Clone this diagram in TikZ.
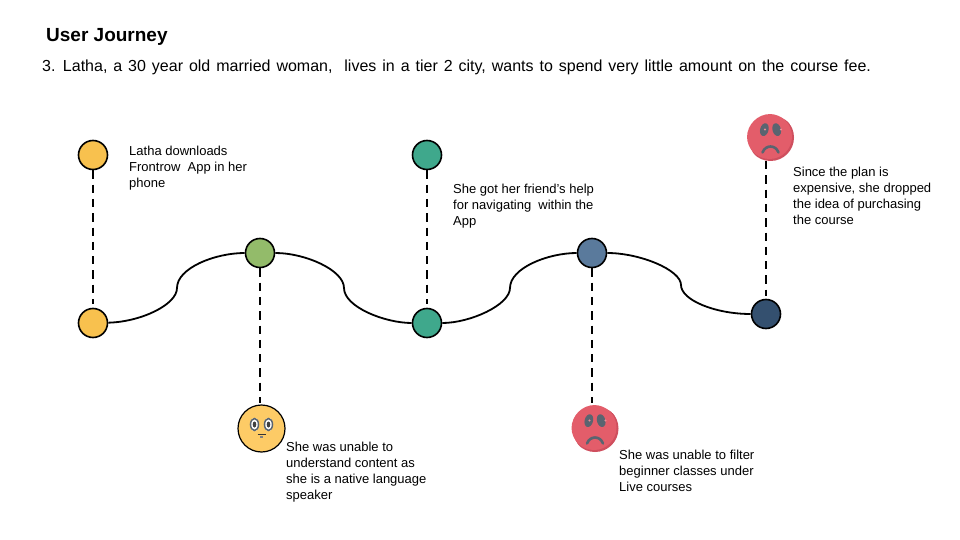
\documentclass[tikz,border=0pt]{standalone}
\usepackage{fontspec}
\setmainfont{Liberation Sans}
\usetikzlibrary{calc}
\definecolor{cy}{HTML}{F8C14E}
\definecolor{cg}{HTML}{93BB6A}
\definecolor{ct}{HTML}{3FA88C}
\definecolor{cb}{HTML}{5A7A9C}
\definecolor{cn}{HTML}{34506F}
\definecolor{cr}{HTML}{E35D6A}
\definecolor{crd}{HTML}{CF4F5E}
\definecolor{cf}{HTML}{FDCB66}
\definecolor{ce}{HTML}{5A6470}
\tikzset{
 dot/.style={circle,draw=black,line width=1.6pt,minimum size=29pt,inner sep=0pt},
 dashline/.style={line width=2pt,dash pattern=on 8.3pt off 6pt},
 curve/.style={line width=1.8pt},
 note/.style={anchor=north west,align=left,inner sep=0pt,font=\fontsize{13}{16}\selectfont},
 face/.style={circle,minimum size=47pt,inner sep=0pt},
 heading/.style={anchor=base west,inner sep=0pt},
}
\newcommand{\sadface}[1]{%
 \begin{scope}
 \clip (#1) circle (23.5pt);
 \fill[crd] ($(#1)+(2,2)$) circle (23.5pt);
 \fill[cr] ($(#1)+(-1,-1)$) circle (22.5pt);
 \end{scope}
 \fill[ce,rotate around={-15:($(#1)+(-8,-6)$)}] ($(#1)+(-8,-6)$) ellipse (4.2pt and 6.5pt);
 \fill[ce,rotate around={15:($(#1)+(8,-6)$)}] ($(#1)+(8,-6)$) ellipse (4.2pt and 6.5pt);
 \fill[cr!70!white] ($(#1)+(-5.5,-8)$) circle (1.1pt);
 \fill[cr!70!white] ($(#1)+(10.5,-8)$) circle (1.1pt);
 \draw[ce,line width=2.6pt,line cap=round] ($(#1)+(-8,15)$) .. controls ($(#1)+(-5,7)$) and ($(#1)+(5,7)$) .. ($(#1)+(8,15)$);
}
\begin{document}
\begin{tikzpicture}[x=1pt,y=-1pt]
\useasboundingbox (0,0) rectangle (960,540);
\node[heading,font=\fontsize{19}{20}\selectfont\bfseries] (title) at (46,42) {User Journey};
\node[heading,font=\fontsize{16}{20}\selectfont] (sub) at (42,72) {\spaceskip=5.95pt\relax 3. Latha, a 30 year old married woman, \ lives in a tier 2 city, wants to spend very little amount on the course fee.};
% nodes on the line
\node[dot,fill=cy] (a) at (93,323) {};
\node[dot,fill=cg] (b) at (260,253) {};
\node[dot,fill=ct] (c) at (427,323) {};
\node[dot,fill=cb] (d) at (592,253) {};
\node[dot,fill=cn] (e) at (766,314) {};
% top nodes
\node[dot,fill=cy] (a2) at (93,155) {};
\node[dot,fill=ct] (c2) at (427,155) {};
% faces
\node[face] (e2) at (770.5,137.5) {};
\node[face] (d2) at (595,428.5) {};
\node[face,fill=cf,draw=black,line width=1.2pt] (b2) at (261.5,428.5) {};
\sadface{e2}
\sadface{d2}
\foreach \s in {-7,7}{
 \fill[white] ($(b2)+(\s,-4)$) ellipse (4.5pt and 6.5pt);
 \draw[ce,line width=1.5pt] ($(b2)+(\s,-4)$) ellipse (4pt and 6pt);
 \fill[black!75] ($(b2)+(\s,-4)$) ellipse (1.8pt and 3pt);
}
\draw[black!80,line width=1.2pt] ($(b2)+(-4,6)$) -- ($(b2)+(4,6)$);
\fill[black!50] ($(b2)+(-1.5,7)$) rectangle ($(b2)+(1.5,9)$);
% connectors
\draw[curve] (a) .. controls (140,322) and (177,305) .. (177,288) .. controls (177,268) and (215,253) .. (b);
\draw[curve] (b) .. controls (305,253) and (344,270) .. (344,288) .. controls (344,307) and (385,323) .. (c);
\draw[curve] (c) .. controls (470,323) and (510,305) .. (510,288) .. controls (510,268) and (548,253) .. (d);
\draw[curve] (d) .. controls (640,253) and (681,270) .. (681,285) .. controls (681,300) and (715,314) .. (e);
\coordinate (a3) at (93,304);
\coordinate (c3) at (427,304);
\coordinate (e3) at (766,296);
\coordinate (b3) at (260,403);
\coordinate (d3) at (592,403);
\coordinate (e4) at (766,161);
\draw[dashline] (a2) -- (a3);
\draw[dashline] (c2) -- (c3);
\draw[dashline] (b) -- (b3);
\draw[dashline] (d) -- (d3);
\draw[dashline] (e4) -- (e3);
% notes
\node[note] (n1) at (129,146) {Latha downloads\\Frontrow \ App in her\\phone};
\node[note] (n2) at (286,442) {She was unable to\\understand content as\\she is a native language\\speaker};
\node[note] (n3) at (453,184) {She got her friend’s help\\for navigating \ within the\\App};
\node[note] (n4) at (619,450) {She was unable to filter\\beginner classes under\\Live courses};
\node[note] (n5) at (793,167) {Since the plan is\\expensive, she dropped\\the idea of purchasing\\the course};
\end{tikzpicture}
\end{document}
